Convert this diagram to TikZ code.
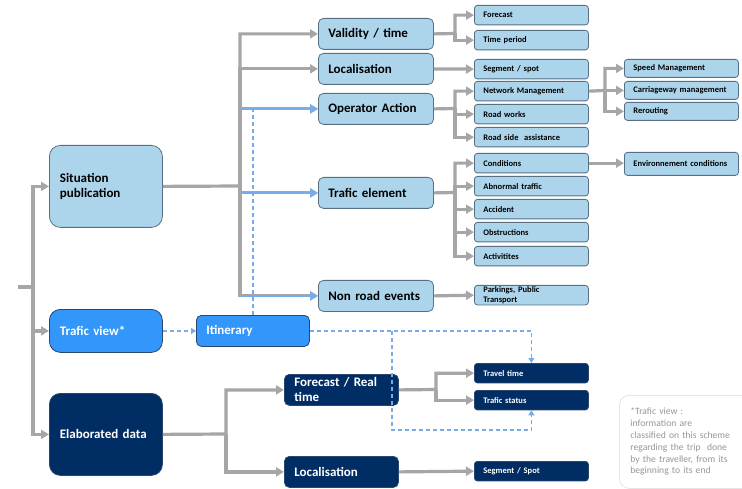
\documentclass[tikz,border=0pt]{standalone}
\usepackage{fontspec}
\setmainfont{Carlito}
\usepackage{tikz}
\usetikzlibrary{arrows.meta}
\definecolor{lightb}{RGB}{172,213,236}
\definecolor{midb}{RGB}{50,150,250}
\definecolor{darkb}{RGB}{0,46,100}
\definecolor{boxline}{RGB}{88,112,132}
\definecolor{darkline}{RGB}{40,70,110}
\definecolor{linkgray}{RGB}{166,166,166}
\definecolor{dashb}{RGB}{120,172,232}
\definecolor{notegray}{RGB}{150,150,150}
\tikzset{
 box/.style={draw=boxline, line width=0.8pt, rounded corners=4pt, anchor=north west,
   align=left, inner ysep=0pt},
 big/.style={box, text width=92pt, inner xsep=10.5pt, minimum height=82pt, rounded corners=11pt,
   font=\bfseries\fontsize{13}{15.5}\selectfont},
 mid/.style={box, text width=95pt, inner xsep=10pt, minimum height=31pt, rounded corners=5pt,
   font=\bfseries\fontsize{13}{14}\selectfont},
 small/.style={box, text width=96pt, inner xsep=9pt, minimum height=19.5pt, rounded corners=3pt,
   font=\bfseries\fontsize{8.5}{10}\selectfont},
 light/.style={fill=lightb},
 medium/.style={fill=midb, draw=darkline, text=white},
 dark/.style={fill=darkb, draw=darkline, text=white},
 link/.style={draw=linkgray, line width=3.2pt, -{Triangle[length=8pt,width=9pt]}},
 blink/.style={draw=dashb, line width=2.4pt, -{Triangle[length=8pt,width=9pt]}},
 dlink/.style={draw=dashb, line width=1.6pt, dash pattern=on 4pt off 3pt,
   -{Triangle[length=5pt,width=6pt]}},
 note/.style={draw=black!10, line width=0.8pt, rounded corners=10pt, anchor=north west,
   text=notegray, align=left, text width=116pt, inner xsep=11pt, minimum height=93pt,
   font=\fontsize{9.6}{11.8}\selectfont}
}

\begin{document}
\begin{tikzpicture}[x=1pt,y=-1pt]
 \useasboundingbox[fill=white] (0,0) rectangle (742,489);
 % main branches
 \node[big, light] (sit) at (49,145) {Situation\\publication};
 \node[big, medium, minimum height=43pt] (tv) at (49,309) {Trafic view*};
 \node[big, dark] (ed) at (49,393) {Elaborated data};
 \node[mid, medium, text width=93pt] (itin) at (196,315) {Itinerary};
 % situation publication
 \node[mid, light] (val) at (318,18) {Validity / time};
 \node[mid, light] (loc) at (318,53) {Localisation};
 \node[mid, light] (op) at (318,93) {Operator Action};
 \node[mid, light] (te) at (318,177) {Trafic element};
 \node[mid, light] (nre) at (318,280) {Non road events};
 \node[small, light] (fc) at (474,5) {Forecast};
 \node[small, light] (tp) at (474,30) {Time period};
 \node[small, light] (seg) at (474,59) {Segment / spot};
 \node[small, light] (nm) at (474,81) {Network Management};
 \node[small, light] (rw) at (474,104) {Road works};
 \node[small, light] (rsa) at (474,127) {Road side\ \ assistance};
 \node[small, light] (cond) at (474,153) {Conditions};
 \node[small, light] (abn) at (474,176) {Abnormal traffic};
 \node[small, light] (acc) at (474,199) {Accident};
 \node[small, light] (obs) at (474,222) {Obstructions};
 \node[small, light] (act) at (474,246) {Activitites};
 \node[small, light, font=\bfseries\fontsize{8.5}{9.5}\selectfont] (park) at (474,285) {Parkings, Public\\Transport};
 \node[small, light, minimum height=18pt] (spd) at (624,59) {Speed Management};
 \node[small, light, minimum height=18pt] (car) at (624,81) {Carriageway management};
 \node[small, light, minimum height=18pt] (rer) at (624,102) {Rerouting};
 \node[small, light, minimum height=23pt] (env) at (624,152) {Environnement conditions};
 % elaborated data
 \node[mid, dark, text width=94pt, font=\bfseries\fontsize{13}{15}\selectfont] (frt) at (284,374) {Forecast / Real\\time};
 \node[mid, dark, text width=94pt] (dloc) at (284,456) {Localisation};
 \node[small, dark] (tt) at (474,363) {Travel time};
 \node[small, dark] (ts) at (474,390) {Trafic status};
 \node[small, dark] (ss) at (474,461) {Segment / Spot};
 \node[note] (nt) at (619,395) {*Trafic view :\\information are\\classified on this scheme\\regarding the trip\ \ done\\by the traveller, from its\\beginning to its end};

 % left trunk
 \coordinate (src) at (18,287);
 \coordinate (t0) at (33,287);
 \draw[link] (src) -- (t0) |- (sit.west);
 \draw[link] (t0) |- (tv.west);
 \draw[link] (t0) |- (ed.west);
 % situation publication tree
 \coordinate (t1) at (240,186);
 \draw[link] (sit.east) -- (t1) |- (val.west);
 \draw[link] (t1) |- (loc.west);
 \draw[link] (t1) |- (op.west);
 \draw[link] (t1) |- (te.west);
 \draw[link] (t1) |- (nre.west);
 \coordinate (t2) at (455,33.5);
 \draw[link] (val.east) -- (t2) |- (fc.west);
 \draw[link] (t2) |- (tp.west);
 \draw[link] (loc.east) -- (seg.west);
 \coordinate (t3) at (455,108.5);
 \draw[link] (op.east) -- (t3) |- (nm.west);
 \draw[link] (t3) |- (rw.west);
 \draw[link] (t3) |- (rsa.west);
 \coordinate (t4) at (605,90.5);
 \draw[link] (nm.east) -- (t4) |- (spd.west);
 \draw[link] (t4) |- (car.west);
 \draw[link] (t4) |- (rer.west);
 \coordinate (t5) at (455,192.5);
 \draw[link] (te.east) -- (t5) |- (cond.west);
 \draw[link] (t5) |- (abn.west);
 \draw[link] (t5) |- (acc.west);
 \draw[link] (t5) |- (obs.west);
 \draw[link] (t5) |- (act.west);
 \draw[link] (cond.east) -- (cond.east -| env.west);
 \draw[link] (nre.east) -- (park.west);
 % elaborated data tree
 \coordinate (t6) at (226,434);
 \draw[link] (ed.east) -- (t6) |- (frt.west);
 \draw[link] (t6) |- (dloc.west);
 \coordinate (t7) at (436,389.5);
 \draw[link] (frt.east) -- (t7) |- (tt.west);
 \draw[link] (t7) |- (ts.west);
 \draw[link] (dloc.east) -- (ss.west);
 % itinerary links
 \draw[dlink] (tv.east) -- (itin.west);
 \draw[dlink, -] (itin.north) -- (itin.north |- op.west);
 \draw[blink] ([xshift=2pt]t1 |- op.west) -- (op.west);
 \draw[blink] ([xshift=2pt]t1 |- te.west) -- (te.west);
 \draw[blink] ([xshift=2pt]t1 |- nre.west) -- (nre.west);
 \draw[dlink] (itin.east) -| (tt.north);
 \coordinate (dj) at (392,330.5);
 \coordinate (db) at (392,430);
 \draw[dlink] (dj) -- (db) -| (ts.south);
\end{tikzpicture}
\end{document}
